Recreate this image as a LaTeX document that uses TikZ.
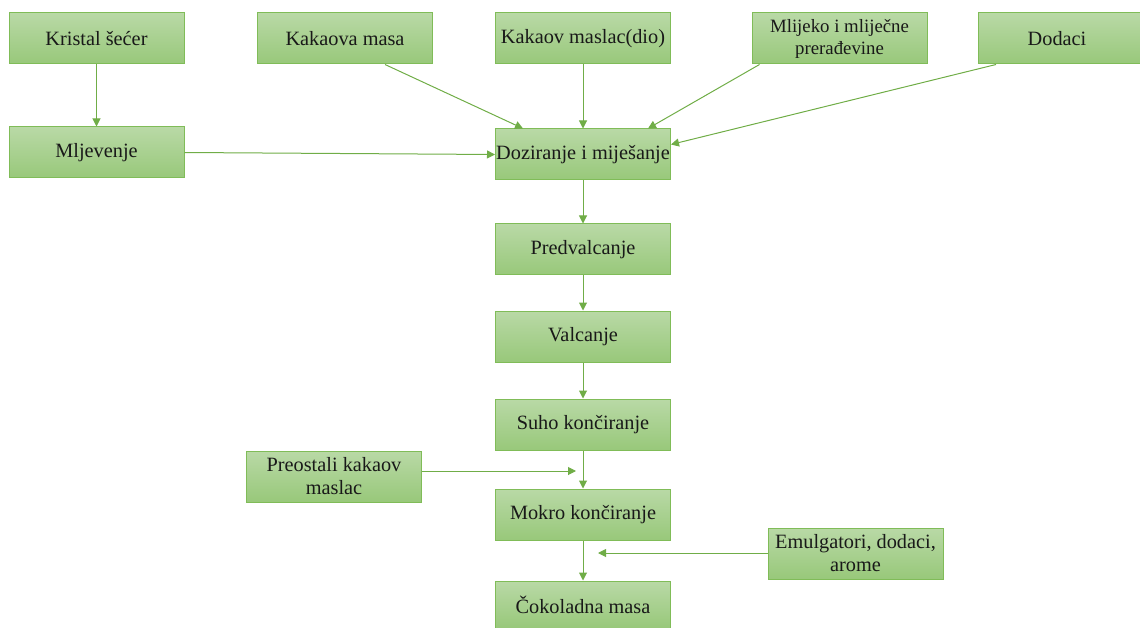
\documentclass[tikz,border=0pt]{standalone}
\usepackage{fontspec}
\setmainfont{Liberation Serif}
\usetikzlibrary{arrows.meta}
\definecolor{gtop}{RGB}{185,217,166}
\definecolor{gbot}{RGB}{152,200,122}
\definecolor{gborder}{RGB}{128,188,88}
\definecolor{garrow}{RGB}{112,173,71}
\tikzset{
  procbox/.style={draw=gborder, line width=1pt, top color=gtop, bottom color=gbot,
    minimum width=175pt, minimum height=51pt, inner sep=0pt, align=center,
    font=\fontsize{20.3}{23}\selectfont, text=black!90},
  smallbox/.style={procbox, font=\fontsize{18.8}{22}\selectfont},
  flow/.style={draw=garrow, line width=1pt, -{Triangle[length=8pt,width=8pt]}}
}
\begin{document}
\begin{tikzpicture}[x=1pt,y=-1pt]
\useasboundingbox (0,0) rectangle (1140,628);
\clip (0,0) rectangle (1140,628);
\node[procbox] (kristal) at (96.5,38.5) {Kristal šećer};
\node[procbox] (mljev) at (96.5,152.5) {Mljevenje};
\node[procbox] (kmasa) at (345,38.5) {Kakaova masa};
\node[procbox] (kmaslac) at (583,38.5) {Kakaov maslac(dio)};
\node[smallbox] (mlijeko) at (839.5,38.5) {Mlijeko i mliječne\\prerađevine};
\node[procbox] (dodaci) at (1066,38.5) {Dodaci\hspace*{18pt}};
\node[procbox] (dozir) at (583,154.5) {Doziranje i miješanje};
\node[procbox] (predv) at (583,249.5) {Predvalcanje};
\node[procbox] (valc) at (583,336.5) {Valcanje};
\node[procbox] (suho) at (583,424.5) {Suho končiranje};
\node[procbox] (preost) at (334,476.5) {Preostali kakaov\\maslac};
\node[procbox] (mokro) at (583,514.5) {Mokro končiranje};
\node[procbox] (emul) at (855.5,553.5) {Emulgatori, dodaci,\\arome};
\node[procbox, minimum height=47pt] (coko) at (583,604.5) {Čokoladna masa};
\coordinate (p1) at (576,471);
\coordinate (p2) at (598,553);
\draw[flow] (kristal) -- (mljev);
\draw[flow] (mljev.east) -- (dozir.west);
\draw[flow] ([xshift=40pt]kmasa.south) -- ([xshift=-60pt]dozir.north);
\draw[flow] (kmaslac) -- (dozir);
\draw[flow] ([xshift=-80pt]mlijeko.south) -- ([xshift=65pt]dozir.north);
\draw[flow] ([xshift=-70pt]dodaci.south) -- ([yshift=10pt]dozir.east);
\draw[flow] (dozir) -- (predv);
\draw[flow] (predv) -- (valc);
\draw[flow] (valc) -- (suho);
\draw[flow] (suho) -- (mokro);
\draw[flow] (preost.east |- p1) -- (p1);
\draw[flow] (mokro) -- (coko);
\draw[flow] (emul.west |- p2) -- (p2);
\end{tikzpicture}
\end{document}
